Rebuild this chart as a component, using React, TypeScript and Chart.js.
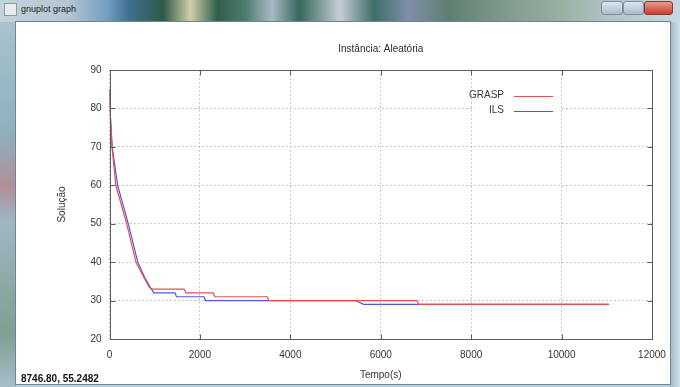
import React, { useEffect, useRef } from "react";
import { Chart, registerables } from "chart.js";

Chart.register(...registerables);

// ---- data ----
const chartTitle = "Instância: Aleatória";
const xAxisTitle = "Tempo(s)";
const yAxisTitle = "Solução";
const windowTitle = "gnuplot graph";
const statusText = "8746.80, 55.2482";

const xTickValues = [0, 2000, 4000, 6000, 8000, 10000, 12000];
const yTickValues = [20, 30, 40, 50, 60, 70, 80, 90];

const seriesNames = ["GRASP", "ILS"];
const seriesColors = ["rgb(228,80,80)", "rgb(84,84,224)"];

const graspTimes = [0, 10, 55, 140, 380, 585, 760, 880, 930, 1650, 1690, 2290, 2330, 3490, 3520, 6800, 6840, 11050];
const graspValues = [85, 80, 70, 60, 50, 40, 36, 33.5, 33, 33, 32, 32, 31, 31, 30, 30, 29, 29];

const ilsTimes = [0, 10, 60, 180, 415, 625, 780, 900, 980, 1450, 1480, 2090, 2120, 5440, 5620, 11050];
const ilsValues = [85, 80, 70, 60, 50, 40, 36, 33.5, 32, 32, 31, 31, 30, 30, 29, 29];

const FONT = "'Liberation Sans', Arial, sans-serif";

const toPoints = (xs: number[], ys: number[]) => xs.map((x, i) => ({ x, y: ys[i] }));

const gnuplotDecor = {
  id: "gnuplotDecor",
  beforeDatasetsDraw(chart: any) {
    const { ctx, chartArea: a } = chart;
    ctx.save();
    ctx.fillStyle = "#ffffff";
    ctx.fillRect(a.right - 177.5, a.top + 31, 85, 14);
    ctx.restore();
  },
  afterDatasetsDraw(chart: any) {
    const { ctx, chartArea: a, scales } = chart;
    ctx.save();
    ctx.strokeStyle = "#5c5c5c";
    ctx.lineWidth = 1;
    const l = Math.round(a.left) + 0.5;
    const r = Math.round(a.right) + 0.5;
    const t = Math.round(a.top) + 0.5;
    const b = Math.round(a.bottom) + 0.5;
    ctx.strokeRect(l, t, r - l, b - t);
    ctx.beginPath();
    for (const v of xTickValues) {
      const px = Math.round(scales.x.getPixelForValue(v)) + 0.5;
      ctx.moveTo(px, b);
      ctx.lineTo(px, b - 5);
      ctx.moveTo(px, t);
      ctx.lineTo(px, t + 5);
    }
    for (const v of yTickValues) {
      const py = Math.round(scales.y.getPixelForValue(v)) + 0.5;
      ctx.moveTo(l, py);
      ctx.lineTo(l + 5, py);
      ctx.moveTo(r, py);
      ctx.lineTo(r - 5, py);
    }
    ctx.stroke();
    ctx.restore();
  },
  afterDraw(chart: any) {
    const { ctx, chartArea: a } = chart;
    ctx.save();
    ctx.font = `10px ${FONT}`;
    ctx.fillStyle = "#2a2a2a";
    ctx.textBaseline = "middle";
    ctx.textAlign = "center";
    ctx.fillText(chartTitle, (a.left + a.right) / 2, a.top - 21);
    // key
    ctx.textAlign = "right";
    seriesNames.forEach((name, i) => {
      const y = a.top + 25.5 + i * 15;
      ctx.fillStyle = "#3a3a3a";
      ctx.fillText(name, a.right - 148, y);
      ctx.strokeStyle = seriesColors[i];
      ctx.lineWidth = 1.2;
      ctx.beginPath();
      ctx.moveTo(a.right - 138, Math.round(y) + 0.5);
      ctx.lineTo(a.right - 99, Math.round(y) + 0.5);
      ctx.stroke();
    });
    ctx.restore();
  },
};

export default function App() {
  const ref = useRef<HTMLCanvasElement>(null);

  useEffect(() => {
    document.body.style.margin = "0";
    const chart = new Chart(ref.current!, {
      type: "line",
      data: {
        datasets: [
          {
            label: seriesNames[0],
            data: toPoints(graspTimes, graspValues),
            borderColor: seriesColors[0],
            borderWidth: 1.2,
            pointRadius: 0,
            tension: 0,
            fill: false,
          },
          {
            label: seriesNames[1],
            data: toPoints(ilsTimes, ilsValues),
            borderColor: seriesColors[1],
            borderWidth: 1.2,
            pointRadius: 0,
            tension: 0,
            fill: false,
          },
        ],
      },
      options: {
        responsive: false,
        animation: false,
        layout: { padding: { left: 50, right: 28, top: 70, bottom: 4 } },
        plugins: {
          legend: { display: false },
          title: { display: false },
          tooltip: { enabled: false },
        },
        scales: {
          x: {
            type: "linear",
            min: 0,
            max: 12000,
            afterBuildTicks: (s: any) => {
              s.ticks = xTickValues.map((v) => ({ value: v }));
            },
            afterFit: (s: any) => {
              s.height = 44;
            },
            ticks: {
              font: { family: FONT, size: 10 },
              color: "#333",
              padding: 10,
              maxRotation: 0,
              autoSkip: false,
              callback: (v: any) => String(v),
            },
            grid: {
              drawTicks: false,
              color: "rgba(165,165,165,0.8)",
              lineWidth: 1,
            },
            border: { display: false, dash: [1.5, 2.5] },
            title: {
              display: true,
              text: xAxisTitle,
              font: { family: FONT, size: 10 },
              color: "#333",
              padding: { top: 0, bottom: 2 },
            },
          },
          y: {
            type: "linear",
            min: 20,
            max: 90,
            afterBuildTicks: (s: any) => {
              s.ticks = yTickValues.map((v) => ({ value: v }));
            },
            afterFit: (s: any) => {
              s.width = 59.5;
            },
            ticks: {
              font: { family: FONT, size: 10 },
              color: "#333",
              padding: 8,
              autoSkip: false,
              callback: (v: any) => String(v),
            },
            grid: {
              drawTicks: false,
              color: "rgba(165,165,165,0.8)",
              lineWidth: 1,
            },
            border: { display: false, dash: [1.5, 2.5] },
            title: {
              display: true,
              text: yAxisTitle,
              font: { family: FONT, size: 10 },
              color: "#333",
              padding: { top: 6, bottom: 0 },
            },
          },
        },
      },
      plugins: [gnuplotDecor],
    } as any);
    return () => chart.destroy();
  }, []);

  const titleBarBg =
    "linear-gradient(90deg, #c4d3dc 0%, #b3c7d3 10%, #6f9cc0 16%, #3f6f90 19%, #2e5a48 24%, #cfcfa8 28%, #2f5e4c 32%, #4b7c6c 36%, #a9b9c4 40%, #33685a 44%, #c6cdd6 50%, #3c6e6a 55%, #7f8fa8 60%, #5f7f70 66%, #7f9a8a 74%, #98ae9f 82%, #b3c5c9 90%, #c7d8e2 100%)";

  return (
    <div
      style={{
        position: "fixed",
        left: 0,
        top: 0,
        width: 680,
        height: 387,
        overflow: "hidden",
        background: "#b7cedb",
      }}
    >
      {/* title bar */}
      <div style={{ position: "absolute", left: 0, top: 0, width: 680, height: 22, background: titleBarBg }} />
      {/* left frame */}
      <div
        style={{
          position: "absolute",
          left: 0,
          top: 22,
          width: 16,
          height: 365,
          background:
            "linear-gradient(180deg, #a9c2cf 0%, #8fb0bf 30%, #b08f98 45%, #9fb8c2 55%, #7f9f92 85%, #a6bec8 100%)",
        }}
      />
      {/* right frame */}
      <div
        style={{
          position: "absolute",
          left: 670,
          top: 22,
          width: 10,
          height: 365,
          background: "linear-gradient(90deg, #9fb9c9, #cfe0ea)",
        }}
      />
      {/* icon */}
      <div
        style={{
          position: "absolute",
          left: 4,
          top: 3,
          width: 11,
          height: 11,
          background: "#e8ecef",
          border: "1px solid #8a9aa6",
        }}
      />
      <div
        style={{
          position: "absolute",
          left: 21,
          top: 4,
          font: `9px ${FONT}`,
          color: "#1e1e1e",
          whiteSpace: "nowrap",
        }}
      >
        {windowTitle}
      </div>
      {/* window buttons */}
      <div
        style={{
          position: "absolute",
          left: 601,
          top: 1,
          width: 22,
          height: 14,
          borderRadius: 3,
          background: "linear-gradient(180deg, #dbe6ee, #a9bccb)",
          border: "1px solid #7a8fa0",
          boxSizing: "border-box",
        }}
      />
      <div
        style={{
          position: "absolute",
          left: 623,
          top: 1,
          width: 21,
          height: 14,
          borderRadius: 3,
          background: "linear-gradient(180deg, #dbe6ee, #a9bccb)",
          border: "1px solid #7a8fa0",
          boxSizing: "border-box",
        }}
      />
      <div
        style={{
          position: "absolute",
          left: 644,
          top: 1,
          width: 29,
          height: 14,
          borderRadius: 3,
          background: "linear-gradient(180deg, #e89a8a, #c7402f)",
          border: "1px solid #8a3a30",
          boxSizing: "border-box",
        }}
      />
      {/* client area */}
      <div
        style={{
          position: "absolute",
          left: 16,
          top: 22,
          width: 654,
          height: 362,
          background: "#ffffff",
          boxShadow: "0 0 0 1px #6f8494",
        }}
      />
      <canvas
        ref={ref}
        width={680}
        height={387}
        style={{ position: "absolute", left: 0, top: 0, width: 680, height: 387 }}
      />
      <div
        style={{
          position: "absolute",
          left: 21,
          top: 373,
          font: `bold 10px ${FONT}`,
          color: "#151515",
          whiteSpace: "nowrap",
        }}
      >
        {statusText}
      </div>
    </div>
  );
}
